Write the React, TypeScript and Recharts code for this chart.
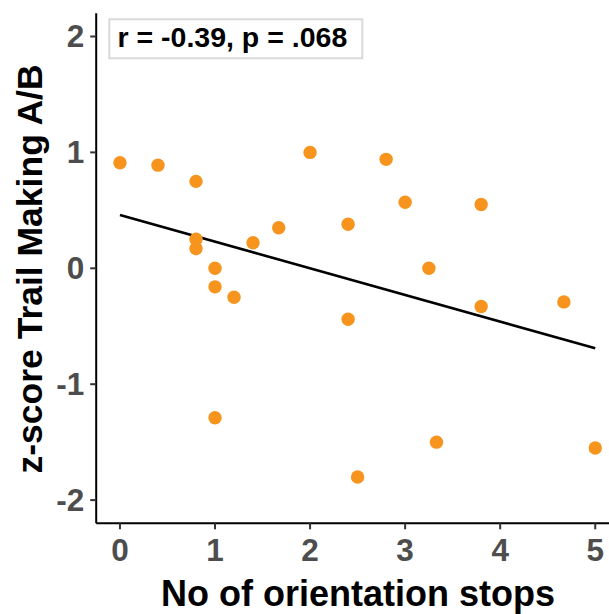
import { ScatterChart, Scatter, XAxis, YAxis, ReferenceLine, Label } from 'recharts';

// number of orientation stops vs z-score (Trail Making A/B)
const stops = [0, 0.4, 0.8, 0.8, 0.8, 1, 1, 1.2, 1.4, 1.67, 2, 2.4, 2.4, 2.8, 3, 3.8, 3.25, 3.8, 4.67, 1, 3.33, 2.5, 5];
const zscores = [0.91, 0.89, 0.75, 0.25, 0.17, 0.0, -0.16, -0.25, 0.22, 0.35, 1.0, 0.38, -0.44, 0.94, 0.57, 0.55, 0.0, -0.33, -0.29, -1.29, -1.5, -1.8, -1.55];

// fitted line ends
const fitX = [0, 5];
const fitY = [0.46, -0.69];

const xTicks = [0, 1, 2, 3, 4, 5];
const yTicks = [-2, -1, 0, 1, 2];

const points = stops.map((x, i) => ({ x, y: zscores[i] }));

const FONT = '"Liberation Sans", Arial, sans-serif';
const ORANGE = '#F7941D';

const XTick = (p: any) => (
  <text x={p.x} y={p.y} dy={29.4} textAnchor="middle" fontFamily={FONT} fontWeight="bold" fontSize={31.5} fill="#4D4D4D">
    {p.payload.value}
  </text>
);

const YTick = (p: any) => (
  <text x={p.x} y={p.y} dx={-4} dy={11} textAnchor="end" fontFamily={FONT} fontWeight="bold" fontSize={31.5} fill="#4D4D4D">
    {p.payload.value}
  </text>
);

const Dot = (p: any) => <circle cx={p.cx} cy={p.cy} r={6.7} fill={ORANGE} />;

export default function App() {
  return (
    <div style={{ position: 'fixed', left: 0, top: 0, width: 609, height: 614, overflow: 'hidden', background: '#fff' }}>
      <ScatterChart width={640} height={614} margin={{ top: 13.3, right: 21, bottom: 0, left: 0 }}>
        <XAxis
          type="number" dataKey="x" domain={[-0.25, 5.25]} ticks={xTicks} allowDataOverflow
          height={90.7} tickSize={6} tick={XTick}
          axisLine={{ stroke: '#000', strokeWidth: 2 }} tickLine={{ stroke: '#333', strokeWidth: 2 }}
        >
          <Label content={(props: any) => {
            const vb = props.viewBox;
            return (
              <text x={vb.x + vb.width / 2 + 0.5} y={605.5} textAnchor="middle" fontFamily={FONT} fontWeight="bold" fontSize={36} fill="#000">
                No of orientation stops
              </text>
            );
          }} />
        </XAxis>
        <YAxis
          type="number" dataKey="y" domain={[-2.2, 2.2]} ticks={yTicks} allowDataOverflow
          width={96.2} tickSize={6} tick={YTick}
          axisLine={{ stroke: '#000', strokeWidth: 2 }} tickLine={{ stroke: '#333', strokeWidth: 2 }}
        >
          <Label content={(props: any) => {
            const vb = props.viewBox;
            const cy = vb.y + vb.height / 2 + 0.7;
            return (
              <text x={41.7} y={cy} transform={`rotate(-90, 41.7, ${cy})`} textAnchor="middle" fontFamily={FONT} fontWeight="bold" fontSize={35.5} fill="#000">
                z-score Trail Making A/B
              </text>
            );
          }} />
        </YAxis>
        <Scatter data={points} shape={Dot} isAnimationActive={false} />
        <ReferenceLine
          segment={[{ x: fitX[0], y: fitY[0] }, { x: fitX[1], y: fitY[1] }]}
          stroke="#000" strokeWidth={2.6} ifOverflow="extendDomain"
        />
      </ScatterChart>
      <svg width={609} height={614} style={{ position: 'absolute', left: 0, top: 0, pointerEvents: 'none' }}>
        <rect x={109.3} y={19.3} width={253} height={39} fill="#fff" stroke="#D9D9D9" strokeWidth={2} />
        <text x={117.5} y={47.3} fontFamily={FONT} fontWeight="bold" fontSize={28.5} fill="#000">
          r = -0.39, p = .068
        </text>
      </svg>
    </div>
  );
}
